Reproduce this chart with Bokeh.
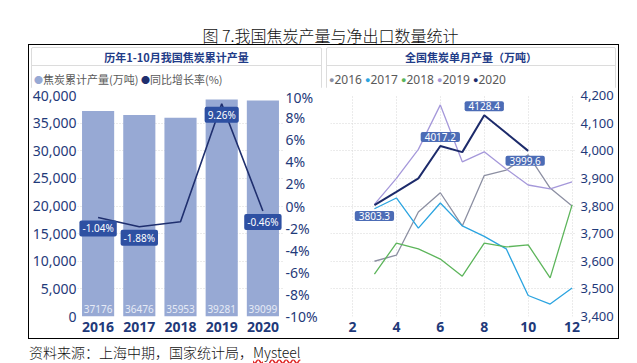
from bokeh.plotting import figure
from bokeh.models import (Range1d, LinearAxis, FixedTicker, NumeralTickFormatter,
                          PrintfTickFormatter, ColumnDataSource, Div)
from bokeh.layouts import row, column
from bokeh.core.properties import value
from bokeh.embed import file_html
from bokeh.resources import INLINE

# ---------------- data ----------------
years = ["2016", "2017", "2018", "2019", "2020"]
cum_output = [37176, 36476, 35953, 39281, 39099]      # 焦炭累计产量(万吨), 1-10月
yoy_growth = [-1.04, -1.88, -1.43, 9.26, -0.46]       # 同比增长率(%)
yoy_labelled = [0, 1, 3, 4]                            # points that carry a label

months = [3, 4, 5, 6, 7, 8, 9, 10, 11, 12]
m2016 = [3600, 3622, 3778, 3848, 3728, 3910, 3930, 3985, 3865, 3800]
m2017 = [3790, 3829, 3720, 3811, 3728, 3690, 3645, 3476, 3445, 3503]
m2018 = [3553, 3666, 3645, 3608, 3546, 3666, 3652, 3659, 3540, 3804]
m2019 = [3806, 3900, 4005, 4166, 3960, 3996, 3934, 3876, 3862, 3887]
months_2020 = [3, 4, 5, 6, 7, 8, 9, 10]
m2020 = [3803.3, 3851, 3900, 4017.2, 3995, 4128.4, 4064, 3999.6]
m2020_labelled = [0, 3, 5, 7]
m2020_label_dy = [11, -9, -9, 10]
m2020_label_dx = [0, 0, 0, -3]

series_names = ["2016", "2017", "2018", "2019", "2020"]
series_colors = ["#8C8FA2", "#2BA4E0", "#5DB55B", "#A598DA", "#1D2B6B"]

BAR_COLOR = "#97A9D4"
LINE_COLOR = "#1F2F6E"
TICK_COLOR = "#1F3A7A"
GRID_COLOR = "#D6D6D6"
CJK = "Noto Sans CJK SC"
LAT = "Noto Sans"


def style_common(p):
    p.outline_line_color = None
    p.background_fill_color = "white"
    p.border_fill_color = "white"
    for g in (p.xgrid, p.ygrid):
        g.grid_line_color = GRID_COLOR
        g.grid_line_dash = "1 2"
        g.grid_line_width = 1


def style_axis(ax, size, bold=False, standoff=2):
    ax.axis_line_color = None
    ax.major_tick_line_color = None
    ax.minor_tick_line_color = None
    ax.major_tick_out = 0
    ax.major_tick_in = 0
    ax.major_label_text_color = TICK_COLOR
    ax.major_label_text_font = LAT
    ax.major_label_text_font_size = size
    ax.major_label_standoff = standoff
    if bold:
        ax.major_label_text_font_style = "bold"


FIG_H = 251

# ---------------- left: cumulative output ----------------
p1 = figure(x_range=years, y_range=Range1d(0, 40000), width=295, height=FIG_H,
            output_backend="svg", toolbar_location=None,
            min_border_left=43, min_border_right=41, min_border_top=8, min_border_bottom=22)
style_common(p1)
p1.extra_y_ranges = {"pct": Range1d(-10, 10)}

bar_src = ColumnDataSource(dict(year=years, out=cum_output, txt=[str(v) for v in cum_output],
                                zero=[0] * len(years)))
p1.vbar(x="year", top="out", width=0.78, source=bar_src, fill_color=BAR_COLOR, line_color=None)
p1.text(x="year", y="zero", text="txt", source=bar_src, text_color="#E6EBF6",
        text_font=value(LAT), text_font_size="10px", text_align="center",
        text_baseline="middle", y_offset=-8)

p1.line(x=years, y=yoy_growth, y_range_name="pct", line_color=LINE_COLOR, line_width=1.6)
lab_src = ColumnDataSource(dict(
    year=[years[i] for i in yoy_labelled],
    g=[yoy_growth[i] for i in yoy_labelled],
    txt=["%.2f%%" % yoy_growth[i] for i in yoy_labelled]))
p1.text(x="year", y="g", text="txt", source=lab_src, y_range_name="pct",
        text_color="white", text_font=value(LAT), text_font_size="10px",
        text_align="center", text_baseline="middle", y_offset=11,
        background_fill_color="#2E50A2", border_radius=2, padding=[3, 1])

p1.yaxis.ticker = FixedTicker(ticks=list(range(0, 40001, 5000)))
p1.yaxis.formatter = NumeralTickFormatter(format="0,0")
style_axis(p1.yaxis[0], "14px", standoff=1)
style_axis(p1.xaxis[0], "14px", bold=True, standoff=5)
p1.xgrid.grid_line_color = None

ax_pct = LinearAxis(y_range_name="pct", ticker=FixedTicker(ticks=list(range(-10, 11, 2))),
                    formatter=PrintfTickFormatter(format="%d%%"))
style_axis(ax_pct, "14px", standoff=2)
p1.add_layout(ax_pct, "right")

# ---------------- right: monthly output ----------------
p2 = figure(x_range=Range1d(1, 12.2), y_range=Range1d(3400, 4200), width=294, height=FIG_H,
            output_backend="svg", toolbar_location=None, y_axis_location="right",
            min_border_left=6, min_border_right=42, min_border_top=8, min_border_bottom=22)
style_common(p2)
all_series = [m2016, m2017, m2018, m2019]
for vals, col in zip(all_series, series_colors[:4]):
    p2.line(x=months, y=vals, line_color=col, line_width=1.3)
p2.line(x=months_2020, y=m2020, line_color=series_colors[4], line_width=2)

r_src = ColumnDataSource(dict(
    m=[months_2020[i] for i in m2020_labelled],
    v=[m2020[i] for i in m2020_labelled],
    txt=["%.1f" % m2020[i] for i in m2020_labelled],
    dy=m2020_label_dy, dx=m2020_label_dx))
p2.text(x="m", y="v", text="txt", source=r_src, text_color="white",
        text_font=value(LAT), text_font_size="10px", text_align="center",
        text_baseline="middle", y_offset="dy", x_offset="dx",
        background_fill_color="#4C6CB6", border_radius=2, padding=[4, 1])

p2.xaxis.ticker = FixedTicker(ticks=[2, 4, 6, 8, 10, 12])
p2.yaxis.ticker = FixedTicker(ticks=list(range(3400, 4201, 100)))
p2.yaxis.formatter = NumeralTickFormatter(format="0,0")
style_axis(p2.xaxis[0], "14px", bold=True, standoff=5)
style_axis(p2.yaxis[0], "13px", standoff=4)

# ---------------- HTML text parts ----------------
def header(title, legend_html, w):
    return Div(width=w, height=42, margin=0, text=(
        f'<div style="width:{w}px;height:42px;font-family:\'{CJK}\';">'
        f'<div style="height:21px;box-sizing:border-box;padding-top:6px;text-align:center;'
        f'font-size:11px;line-height:13px;font-weight:bold;color:#1F3C88;'
        f'border-bottom:1px solid #DCDCDC;margin:0 3px;">{title}</div>'
        f'<div style="padding:5px 0 0 5px;line-height:16px;white-space:nowrap;">{legend_html}</div>'
        '</div>'))


def dot(c):
    return f'<span style="color:{c};font-size:9px;vertical-align:1px;">&#9679;</span>'


left_leg = (f'<span style="font-size:11px;color:#595959;">{dot(BAR_COLOR)}焦炭累计产量(万吨) '
            f'{dot(LINE_COLOR)}同比增长率(%)</span>')
right_leg = '<span style="font-size:12px;color:#595959;font-family:\'Noto Sans\';">' + " ".join(
    f'{dot(c)}{n}' for n, c in zip(series_names, series_colors)) + '</span>'

h1 = header("历年1-10月我国焦炭累计产量", left_leg, 295)
h2 = header("全国焦炭单月产量（万吨）", right_leg, 294)

panel_style = {"outline": "1px solid #DCDCDC", "outline-offset": "-3px", "border-radius": "4px"}
c1 = column(h1, p1, spacing=0, margin=0, styles=panel_style)
c2 = column(h2, p2, spacing=0, margin=0, styles=panel_style)
body = row(c1, c2, spacing=0, margin=(0, 0, 0, 29),
           styles={"box-shadow": "0 0 0 1px #000000", "outline": "1px solid #000000"})

title_div = Div(width=637, height=45, margin=0, text=(
    f'<div style="padding-top:25px;height:20px;width:637px;text-align:center;'
    f'font-family:\'{CJK}\';font-size:16px;font-weight:300;line-height:20px;color:#111;'
    f'padding-left:12px;box-sizing:content-box;">图 7.我国焦炭产量与净出口数量统计</div>'))

source_div = Div(width=637, height=24, margin=0, text=(
    f'<div style="padding-top:6px;margin-left:29px;font-family:\'{CJK}\';font-size:14px;'
    f'font-weight:300;line-height:16px;color:#111;white-space:nowrap;">资料来源：上海中期，国家统计局，'
    f'<span style="text-decoration:underline wavy #d22;">Mysteel</span></div>'))

page = column(title_div, body, source_div, spacing=0, margin=0)

open("out.html", "w").write(file_html(page, INLINE))
